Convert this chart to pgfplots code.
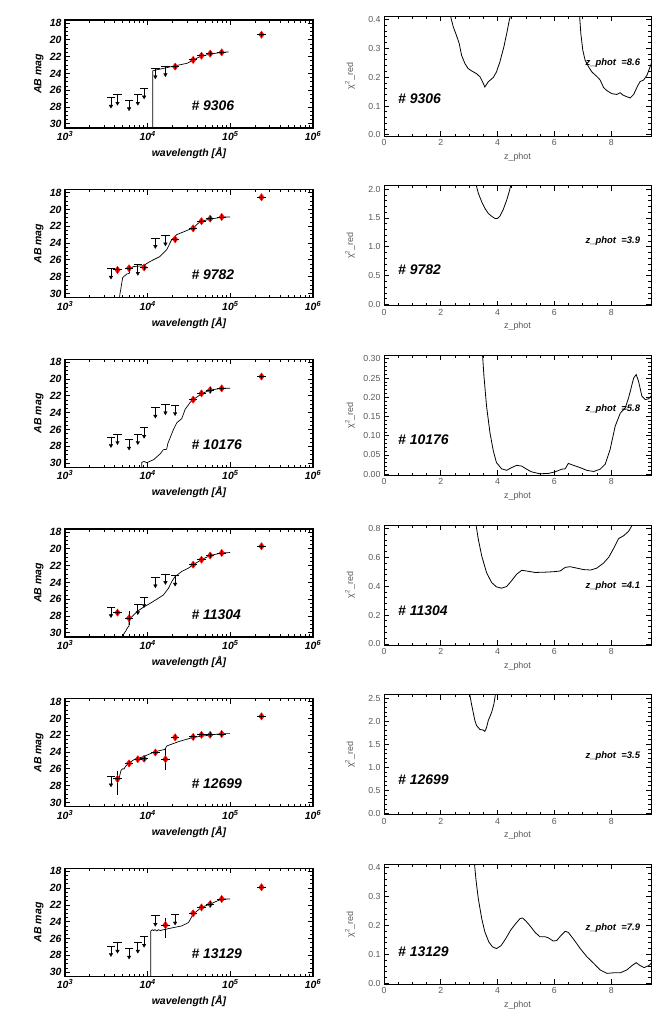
\documentclass[border=0pt]{standalone}
\usepackage{fontspec}
\setmainfont{Liberation Sans}
\usepackage{pgfplots}
\pgfplotsset{compat=1.18}

\newcommand{\bfit}[1]{\fontsize{#1}{#1}\selectfont\bfseries\itshape}
\pgfkeys{/pgf/number format/assume math mode=true}

% x of the SED panels is log10(wavelength / A)
\pgfplotsset{
  sedaxis/.style={
    scale only axis, width=248bp, height=108bp,
    xmin=3, xmax=6, ymin=17.65, ymax=30.5, y dir=reverse,
    xtick={3,4,5,6},
    xticklabels={10\textsuperscript{3},10\textsuperscript{4},10\textsuperscript{5},10\textsuperscript{6}},
    minor xtick={3.301,3.477,3.602,3.699,3.778,3.845,3.903,3.954,4.301,4.477,4.602,4.699,4.778,4.845,4.903,4.954,5.301,5.477,5.602,5.699,5.778,5.845,5.903,5.954},
    ytick={18,20,...,30}, minor y tick num=3,
    tick align=inside, major tick length=5bp, minor tick length=2.7bp,
    tick style={black, line width=0.8bp},
    axis line style={line width=1.1bp},
    tick label style={font=\bfit{10.5}},
    label style={font=\bfit{10.5}},
    xlabel={wavelength [Å]}, ylabel={AB mag},
    xlabel style={at={(axis description cs:0.5,-0.23)}, anchor=center},
    ylabel style={at={(axis description cs:-0.105,0.5)}, anchor=center},
  },
  sedmodel/.style={no markers, line width=0.7bp, black},
  sedbar/.style={only marks, mark=-, mark size=4.3bp, mark options={line width=0.9bp}, black},
  sedstem/.style={no markers, unbounded coords=jump, line width=0.8bp, black},
  sedhead/.style={only marks, mark=triangle*, mark size=2bp, mark options={rotate=180, fill=black}, black},
  seddet/.style={only marks, mark=diamond*, mark size=3.6bp, mark options={fill=red, draw=red}, red},
  sedcross/.style={only marks, mark=+, mark size=2.6bp, mark options={xscale=1.65, line width=0.9bp}, black},
  chiaxis/.style={
    scale only axis, width=267bp, height=120bp,
    xmin=0, xmax=9.4, xtick={0,2,4,6,8}, minor x tick num=3,
    minor y tick num=4,
    tick align=inside, major tick length=5bp, minor tick length=2.5bp,
    axis line style={line width=0.9bp}, tick style={black, line width=0.7bp},
    tick label style={font=\fontsize{8.8}{10}\selectfont, text=black!65},
    label style={font=\fontsize{9}{10}\selectfont, text=black!65},
    xlabel={z\_phot}, ylabel={χ\textsuperscript{2}\_red},
    xlabel style={at={(axis description cs:0.5,-0.175)}, anchor=center},
    ylabel style={at={(axis description cs:-0.127,0.5)}, anchor=center},
    yticklabel style={/pgf/number format/fixed, /pgf/number format/fixed zerofill, /pgf/number format/precision=1},
  },
  chiline/.style={no markers, line width=0.8bp, black},
}

\begin{document}
\begin{tikzpicture}
\path[use as bounding box] (0,0) rectangle (664bp,-1018bp);

% ---------------- row 1: 9306
\begin{axis}[sedaxis, at={(65bp,-128bp)}]
\addplot[sedmodel] coordinates {(4.061,31)(4.061,23.7)(4.097,23.6)(4.146,23.5)(4.217,23.35)(4.332,23.1)(4.477,22.8)(4.550,22.45)(4.602,22.15)(4.651,21.95)(4.756,21.7)(4.896,21.5)(4.978,21.45)};
\addplot[sedbar] coordinates {(3.556,26.9)(3.635,26.55)(3.775,27.2)(3.881,26.55)(3.957,25.8)(4.093,23.4)(4.215,23.15)};
\addplot[sedstem] coordinates {(3.556,26.9)(3.556,27.9)(3.556,nan)(3.635,26.55)(3.635,27.55)(3.635,nan)(3.775,27.2)(3.775,28.2)(3.775,nan)(3.881,26.55)(3.881,27.55)(3.881,nan)(3.957,25.8)(3.957,26.8)(3.957,nan)(4.093,23.4)(4.093,24.4)(4.093,nan)(4.215,23.15)(4.215,24.15)};
\addplot[sedhead] coordinates {(3.556,27.9)(3.635,27.55)(3.775,28.2)(3.881,27.55)(3.957,26.8)(4.093,24.4)(4.215,24.15)};
\addplot[seddet] coordinates {(4.332,23.2)(4.550,22.4)(4.651,21.9)(4.756,21.65)(4.896,21.5)(5.377,19.4)};
\addplot[sedcross] coordinates {(4.332,23.2)(4.550,22.4)(4.651,21.9)(4.756,21.65)(4.896,21.5)(5.377,19.4)};
\node[anchor=west, font=\bfit{14}] at (axis description cs:0.496,0.21) {\# 9306};
\end{axis}
\begin{axis}[chiaxis, at={(384bp,-136bp)}, ymin=-0.004, ymax=0.412, ytick={0,0.1,0.2,0.3,0.4}]
\addplot[chiline] coordinates {(2.32,0.42)(2.44,0.374)(2.55,0.345)(2.65,0.316)(2.73,0.276)(2.85,0.247)(2.96,0.230)(3.08,0.222)(3.26,0.212)(3.38,0.201)(3.47,0.184)(3.55,0.166)(3.67,0.184)(3.85,0.199)(3.96,0.218)(4.08,0.253)(4.22,0.305)(4.32,0.351)(4.41,0.397)(4.47,0.42)};
\addplot[chiline] coordinates {(6.88,0.42)(6.93,0.351)(7.0,0.293)(7.08,0.259)(7.2,0.236)(7.32,0.218)(7.44,0.207)(7.52,0.200)(7.61,0.190)(7.73,0.164)(7.85,0.153)(8.02,0.143)(8.2,0.140)(8.32,0.146)(8.41,0.138)(8.55,0.132)(8.67,0.128)(8.79,0.140)(8.93,0.170)(9.02,0.185)(9.14,0.190)(9.26,0.207)(9.41,0.247)};
\node[anchor=west, font=\bfit{14}] at (axis description cs:0.04,0.31) {\# 9306};
\node[anchor=west, font=\bfit{9.5}] at (axis description cs:0.742,0.606) {z\_phot\ \ =8.6};
\end{axis}

% ---------------- row 2: 9782
\begin{axis}[sedaxis, at={(65bp,-297.67bp)}]
\addplot[sedmodel] coordinates {(3.654,31)(3.665,30.0)(3.673,29.6)(3.698,28.1)(3.746,27.7)(3.778,27.6)(3.786,27.1)(3.826,26.8)(3.947,26.7)(4.028,26.2)(4.149,25.6)(4.230,24.8)(4.290,23.6)(4.351,23.0)(4.552,22.2)(4.633,21.45)(4.754,21.15)(4.915,20.9)(4.998,20.9)};
\addplot[sedbar] coordinates {(3.556,27.05)(3.881,26.6)(4.093,23.4)(4.215,23.1)};
\addplot[sedstem] coordinates {(3.556,27.05)(3.556,28.05)(3.556,nan)(3.881,26.6)(3.881,27.6)(3.881,nan)(4.093,23.4)(4.093,24.4)(4.093,nan)(4.215,23.1)(4.215,24.1)};
\addplot[sedhead] coordinates {(3.556,28.05)(3.881,27.6)(4.093,24.4)(4.215,24.1)};
\addplot[seddet] coordinates {(3.635,27.2)(3.775,27.0)(3.957,26.9)(4.332,23.55)(4.550,22.25)(4.651,21.4)(4.756,21.1)(4.896,20.9)(5.377,18.55)};
\addplot[sedcross] coordinates {(3.635,27.2)(3.775,27.0)(3.957,26.9)(4.332,23.55)(4.550,22.25)(4.651,21.4)(4.756,21.1)(4.896,20.9)(5.377,18.55)};
\node[anchor=west, font=\bfit{14}] at (axis description cs:0.496,0.21) {\# 9782};
\end{axis}
\begin{axis}[chiaxis, at={(384bp,-305.67bp)}, ymin=-0.02, ymax=2.06, ytick={0,0.5,1,1.5,2}]
\addplot[chiline] coordinates {(3.24,2.08)(3.32,1.93)(3.44,1.78)(3.55,1.67)(3.67,1.58)(3.79,1.53)(3.91,1.49)(3.99,1.49)(4.08,1.53)(4.2,1.65)(4.32,1.81)(4.41,1.96)(4.47,2.08)};
\node[anchor=west, font=\bfit{14}] at (axis description cs:0.04,0.30) {\# 9782};
\node[anchor=west, font=\bfit{9.5}] at (axis description cs:0.742,0.536) {z\_phot\ \ =3.9};
\end{axis}

% ---------------- row 3: 10176
\begin{axis}[sedaxis, at={(65bp,-467.33bp)}]
\addplot[sedmodel] coordinates {(3.929,31)(3.929,29.9)(3.957,29.8)(3.989,29.95)(4.070,29.6)(4.151,28.9)(4.190,28.4)(4.230,28.35)(4.243,27.7)(4.279,26.8)(4.312,26.0)(4.352,25.2)(4.413,24.7)(4.453,23.6)(4.513,22.8)(4.550,22.45)(4.651,21.75)(4.756,21.3)(4.896,21.1)(4.998,21.1)};
\addplot[sedbar] coordinates {(3.556,26.9)(3.635,26.55)(3.775,27.2)(3.881,26.55)(3.957,25.8)(4.093,23.4)(4.215,23.0)(4.332,23.1)};
\addplot[sedstem] coordinates {(3.556,26.9)(3.556,27.9)(3.556,nan)(3.635,26.55)(3.635,27.55)(3.635,nan)(3.775,27.2)(3.775,28.2)(3.775,nan)(3.881,26.55)(3.881,27.55)(3.881,nan)(3.957,25.8)(3.957,26.8)(3.957,nan)(4.093,23.4)(4.093,24.4)(4.093,nan)(4.215,23.0)(4.215,24.0)(4.215,nan)(4.332,23.1)(4.332,24.1)};
\addplot[sedhead] coordinates {(3.556,27.9)(3.635,27.55)(3.775,28.2)(3.881,27.55)(3.957,26.8)(4.093,24.4)(4.215,24.0)(4.332,24.1)};
\addplot[seddet] coordinates {(4.550,22.45)(4.651,21.7)(4.756,21.3)(4.896,21.1)(5.377,19.7)};
\addplot[sedcross] coordinates {(4.550,22.45)(4.651,21.7)(4.756,21.3)(4.896,21.1)(5.377,19.7)};
\node[anchor=west, font=\bfit{14}] at (axis description cs:0.496,0.21) {\# 10176};
\end{axis}
\begin{axis}[chiaxis, at={(384bp,-475.33bp)}, ymin=-0.003, ymax=0.309, ytick={0,0.05,0.1,0.15,0.2,0.25,0.3},
  yticklabel style={/pgf/number format/precision=2}]
\addplot[chiline] coordinates {(3.46,0.32)(3.52,0.254)(3.61,0.177)(3.73,0.108)(3.85,0.060)(3.96,0.030)(4.14,0.014)(4.32,0.010)(4.49,0.017)(4.67,0.023)(4.85,0.021)(5.02,0.013)(5.2,0.006)(5.49,0.001)(5.79,0.002)(6.02,0.006)(6.26,0.013)(6.38,0.014)(6.49,0.028)(6.67,0.023)(6.91,0.017)(7.14,0.010)(7.38,0.007)(7.61,0.013)(7.79,0.026)(7.96,0.064)(8.14,0.125)(8.32,0.159)(8.49,0.172)(8.61,0.198)(8.79,0.250)(8.88,0.259)(8.96,0.242)(9.08,0.203)(9.2,0.194)(9.32,0.196)(9.41,0.204)};
\node[anchor=west, font=\bfit{14}] at (axis description cs:0.04,0.30) {\# 10176};
\node[anchor=west, font=\bfit{9.5}] at (axis description cs:0.742,0.55) {z\_phot\ \ =5.8};
\end{axis}

% ---------------- row 4: 11304
\begin{axis}[sedaxis, at={(65bp,-637bp)}]
\addplot[sedmodel] coordinates {(3.707,31)(3.707,30.2)(3.740,29.7)(3.756,29.4)(3.775,29.2)(3.775,28.4)(3.787,28.3)(3.827,27.9)(3.881,27.4)(3.957,26.9)(4.029,26.5)(4.111,26.0)(4.190,25.5)(4.252,24.7)(4.292,23.9)(4.332,23.3)(4.413,22.7)(4.494,22.3)(4.550,21.9)(4.651,21.3)(4.756,20.8)(4.896,20.5)(4.998,20.45)};
\addplot[sedbar] coordinates {(3.556,26.95)(3.881,26.6)(3.957,25.75)(4.093,23.4)(4.215,23.0)(4.332,23.2)};
\addplot[sedstem] coordinates {(3.556,26.95)(3.556,27.95)(3.556,nan)(3.881,26.6)(3.881,27.6)(3.881,nan)(3.957,25.75)(3.957,26.75)(3.957,nan)(4.093,23.4)(4.093,24.4)(4.093,nan)(4.215,23.0)(4.215,24.0)(4.215,nan)(4.332,23.2)(4.332,24.2)};
\addplot[sedhead] coordinates {(3.556,27.95)(3.881,27.6)(3.957,26.75)(4.093,24.4)(4.215,24.0)(4.332,24.2)};
\addplot[seddet] coordinates {(3.635,27.6)(3.775,28.25)(4.550,21.9)(4.651,21.3)(4.756,20.8)(4.896,20.5)(5.377,19.7)};
\addplot[sedstem] coordinates {(3.635,27.15)(3.635,28.05)(3.635,nan)(3.775,27.45)(3.775,29.05)};
\addplot[sedcross] coordinates {(3.635,27.6)(3.775,28.25)(4.550,21.9)(4.651,21.3)(4.756,20.8)(4.896,20.5)(5.377,19.7)};
\node[anchor=west, font=\bfit{14}] at (axis description cs:0.496,0.21) {\# 11304};
\end{axis}
\begin{axis}[chiaxis, at={(384bp,-645bp)}, ymin=-0.008, ymax=0.824, ytick={0,0.2,0.4,0.6,0.8}]
\addplot[chiline] coordinates {(3.22,0.85)(3.32,0.725)(3.44,0.610)(3.61,0.494)(3.79,0.425)(3.96,0.395)(4.14,0.386)(4.32,0.398)(4.49,0.437)(4.67,0.483)(4.85,0.510)(5.02,0.505)(5.32,0.495)(5.67,0.497)(5.96,0.500)(6.2,0.505)(6.38,0.530)(6.55,0.535)(6.79,0.525)(7.02,0.515)(7.28,0.512)(7.49,0.525)(7.73,0.56)(7.91,0.60)(8.08,0.66)(8.26,0.73)(8.44,0.75)(8.61,0.78)(8.76,0.83)};
\node[anchor=west, font=\bfit{14}] at (axis description cs:0.04,0.29) {\# 11304};
\node[anchor=west, font=\bfit{9.5}] at (axis description cs:0.742,0.49) {z\_phot\ \ =4.1};
\end{axis}

% ---------------- row 5: 12699
\begin{axis}[sedaxis, at={(65bp,-806.67bp)}]
\addplot[sedmodel] coordinates {(3.645,27.5)(3.677,26.2)(3.698,25.98)(3.714,26.02)(3.730,25.74)(3.746,25.55)(3.826,24.95)(3.947,24.55)(4.088,23.96)(4.209,23.68)(4.230,23.28)(4.371,22.77)(4.552,22.25)(4.754,21.98)(4.915,21.78)(4.998,21.78)};
\addplot[sedbar] coordinates {(3.556,26.9)};
\addplot[sedstem] coordinates {(3.556,26.9)(3.556,27.9)};
\addplot[sedhead] coordinates {(3.556,27.9)};
\addplot[seddet] coordinates {(3.635,27.2)(3.775,25.35)(3.881,24.85)(3.957,24.8)(4.093,24.05)(4.215,24.85)(4.332,22.25)(4.550,22.2)(4.651,21.95)(4.756,21.95)(4.896,21.85)(5.377,19.75)};
\addplot[sedstem] coordinates {(3.635,26.3)(3.635,29.1)(3.635,nan)(4.093,23.65)(4.093,24.4)(4.093,nan)(4.215,23.55)(4.215,26.1)(4.215,nan)(4.332,21.9)(4.332,22.55)};
\addplot[sedcross] coordinates {(3.635,27.2)(3.775,25.35)(3.881,24.85)(3.957,24.8)(4.093,24.05)(4.215,24.85)(4.332,22.25)(4.550,22.2)(4.651,21.95)(4.756,21.95)(4.896,21.85)(5.377,19.75)};
\node[anchor=west, font=\bfit{14}] at (axis description cs:0.496,0.21) {\# 12699};
\end{axis}
\begin{axis}[chiaxis, at={(384bp,-814.67bp)}, ymin=-0.025, ymax=2.575, ytick={0,0.5,1,1.5,2,2.5}]
\addplot[chiline] coordinates {(3.0,2.65)(3.08,2.373)(3.14,2.193)(3.2,2.013)(3.26,1.905)(3.38,1.82)(3.49,1.81)(3.55,1.78)(3.61,1.86)(3.67,2.013)(3.79,2.193)(3.87,2.373)(3.94,2.65)};
\node[anchor=west, font=\bfit{14}] at (axis description cs:0.04,0.29) {\# 12699};
\node[anchor=west, font=\bfit{9.5}] at (axis description cs:0.742,0.486) {z\_phot\ \ =3.5};
\end{axis}

% ---------------- row 6: 13129
\begin{axis}[sedaxis, at={(65bp,-976.33bp)}]
\addplot[sedmodel] coordinates {(4.038,31)(4.038,25.1)(4.057,24.95)(4.070,25.05)(4.090,24.95)(4.110,25.1)(4.130,24.95)(4.151,25.05)(4.215,24.9)(4.312,24.7)(4.413,24.5)(4.494,24.1)(4.550,23.1)(4.651,22.3)(4.756,21.9)(4.896,21.3)(4.998,21.3)};
\addplot[sedbar] coordinates {(3.556,26.9)(3.635,26.5)(3.775,27.2)(3.881,26.5)(3.957,25.8)(4.093,23.3)(4.332,23.15)};
\addplot[sedstem] coordinates {(3.556,26.9)(3.556,27.9)(3.556,nan)(3.635,26.5)(3.635,27.5)(3.635,nan)(3.775,27.2)(3.775,28.2)(3.775,nan)(3.881,26.5)(3.881,27.5)(3.881,nan)(3.957,25.8)(3.957,26.8)(3.957,nan)(4.093,23.3)(4.093,24.3)(4.093,nan)(4.332,23.15)(4.332,24.15)};
\addplot[sedhead] coordinates {(3.556,27.9)(3.635,27.5)(3.775,28.2)(3.881,27.5)(3.957,26.8)(4.093,24.3)(4.332,24.15)};
\addplot[seddet] coordinates {(4.215,24.4)(4.550,23.0)(4.651,22.3)(4.756,21.9)(4.896,21.3)(5.377,19.9)};
\addplot[sedstem] coordinates {(4.215,23.5)(4.215,25.9)};
\addplot[sedcross] coordinates {(4.215,24.4)(4.550,23.0)(4.651,22.3)(4.756,21.9)(4.896,21.3)(5.377,19.9)};
\node[anchor=west, font=\bfit{14}] at (axis description cs:0.496,0.21) {\# 13129};
\end{axis}
\begin{axis}[chiaxis, at={(384bp,-984.33bp)}, ymin=-0.004, ymax=0.412, ytick={0,0.1,0.2,0.3,0.4}]
\addplot[chiline] coordinates {(3.18,0.42)(3.24,0.357)(3.32,0.293)(3.44,0.224)(3.55,0.178)(3.69,0.143)(3.82,0.126)(3.96,0.120)(4.12,0.130)(4.29,0.155)(4.46,0.184)(4.64,0.207)(4.79,0.224)(4.88,0.226)(5.0,0.215)(5.14,0.199)(5.32,0.176)(5.49,0.161)(5.67,0.161)(5.79,0.157)(5.96,0.146)(6.08,0.148)(6.22,0.164)(6.38,0.180)(6.49,0.176)(6.67,0.153)(6.91,0.120)(7.14,0.092)(7.38,0.069)(7.61,0.046)(7.85,0.034)(8.08,0.036)(8.32,0.036)(8.55,0.046)(8.73,0.061)(8.88,0.071)(9.02,0.061)(9.16,0.054)(9.32,0.061)(9.41,0.069)};
\node[anchor=west, font=\bfit{14}] at (axis description cs:0.04,0.27) {\# 13129};
\node[anchor=west, font=\bfit{9.5}] at (axis description cs:0.742,0.47) {z\_phot\ \ =7.9};
\end{axis}
\end{tikzpicture}
\end{document}
